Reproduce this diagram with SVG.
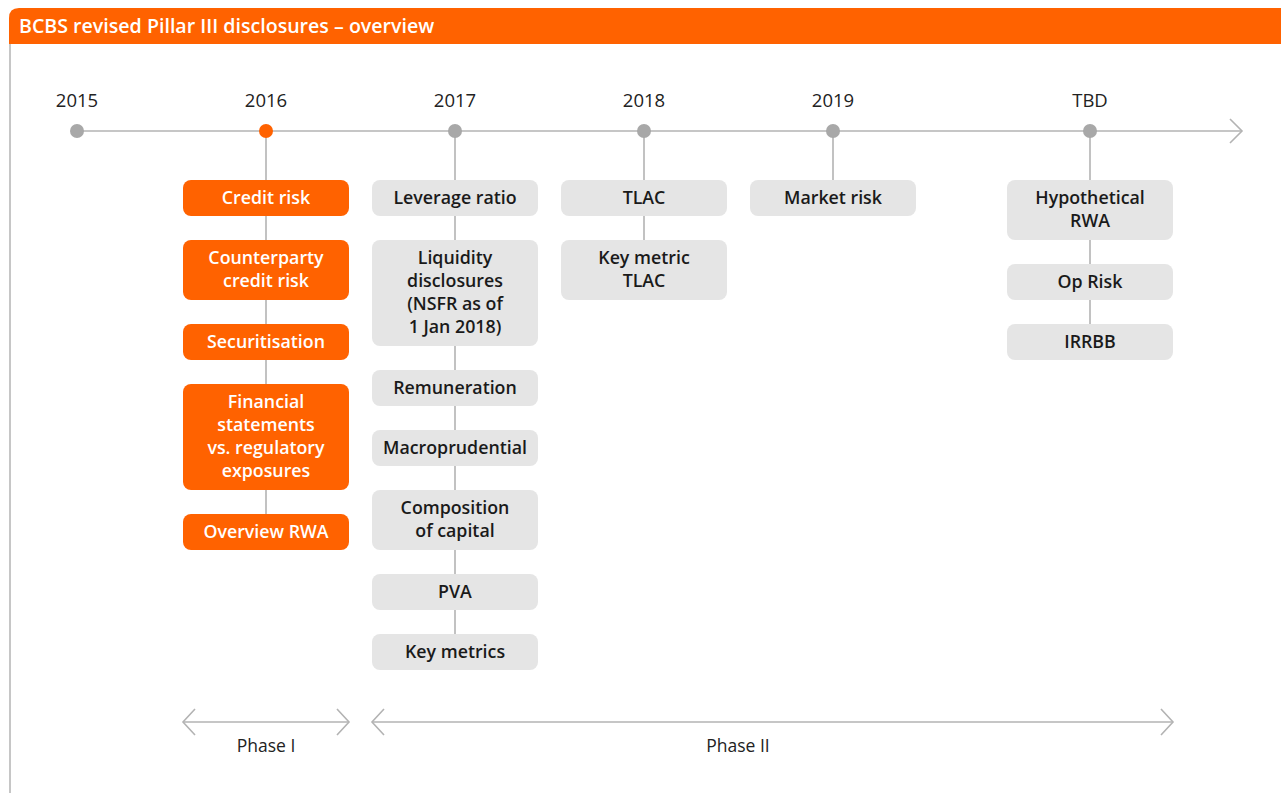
<svg xmlns="http://www.w3.org/2000/svg" width="1281" height="793" viewBox="0 0 1281 793">
<defs>
<style>
.bg{fill:#ffffff}
.hdr{fill:#ff6200}
.htxt{font-family:"Open Sans","Liberation Sans",sans-serif;font-size:19.6px;font-weight:600;fill:#ffffff}
.yr{font-family:"Open Sans","Liberation Sans",sans-serif;font-size:18.5px;fill:#222222;text-anchor:middle}
.ln{stroke:#b3b3b3;stroke-width:1.6;fill:none}
.dot{fill:#a8a8a8}
.dotO{fill:#ff6200}
.bo{fill:#ff6200}
.bg2{fill:#e5e5e5}
.to{font-family:"Open Sans","Liberation Sans",sans-serif;font-size:17.8px;font-weight:600;fill:#ffffff;text-anchor:middle}
.tg{font-family:"Open Sans","Liberation Sans",sans-serif;font-size:17.8px;font-weight:600;fill:#1a1a1a;text-anchor:middle}
.ph{font-family:"Open Sans","Liberation Sans",sans-serif;font-size:17.5px;fill:#222222;text-anchor:middle}
</style>
</defs>
<rect class="bg" x="0" y="0" width="1281" height="793"/>
<path class="hdr" d="M9,44 V18 Q9,8 19,8 H1281 V44 Z"/>
<text class="htxt" x="19" y="33">BCBS revised Pillar III disclosures – overview</text>
<line x1="10" y1="44" x2="10" y2="793" stroke="#b3b3b3" stroke-width="1.5"/>

<g id="connectors">
<line class="ln" x1="77" y1="131" x2="1242" y2="131"/>
<polyline class="ln" points="1230,119 1242,131 1230,143"/>
<line class="ln" x1="266" y1="131" x2="266" y2="514"/>
<line class="ln" x1="455" y1="131" x2="455" y2="634"/>
<line class="ln" x1="644" y1="131" x2="644" y2="240"/>
<line class="ln" x1="833" y1="131" x2="833" y2="180"/>
<line class="ln" x1="1090" y1="131" x2="1090" y2="324"/>
<line class="ln" x1="183" y1="722" x2="349" y2="722"/>
<polyline class="ln" points="195,709 183,722 195,735"/>
<polyline class="ln" points="337,709 349,722 337,735"/>
<line class="ln" x1="372" y1="722" x2="1173" y2="722"/>
<polyline class="ln" points="384,709 372,722 384,735"/>
<polyline class="ln" points="1161,709 1173,722 1161,735"/>
</g>

<g id="years">
<circle class="dot" cx="77" cy="131" r="7"/>
<circle class="dotO" cx="266" cy="131" r="7"/>
<circle class="dot" cx="455" cy="131" r="7"/>
<circle class="dot" cx="644" cy="131" r="7"/>
<circle class="dot" cx="833" cy="131" r="7"/>
<circle class="dot" cx="1090" cy="131" r="7"/>
<text class="yr" x="77" y="107">2015</text>
<text class="yr" x="266" y="107">2016</text>
<text class="yr" x="455" y="107">2017</text>
<text class="yr" x="644" y="107">2018</text>
<text class="yr" x="833" y="107">2019</text>
<text class="yr" x="1090" y="107">TBD</text>
</g>

<g id="credit-risk"><rect class="bo" x="183" y="180" width="166" height="36" rx="8"/><text class="to" x="266" y="204">Credit risk</text></g>
<g id="ccr"><rect class="bo" x="183" y="240" width="166" height="60" rx="8"/><text class="to" x="266" y="264">Counterparty</text><text class="to" x="266" y="287">credit risk</text></g>
<g id="securitisation"><rect class="bo" x="183" y="324" width="166" height="36" rx="8"/><text class="to" x="266" y="348">Securitisation</text></g>
<g id="fin-stmt"><rect class="bo" x="183" y="384" width="166" height="106" rx="8"/><text class="to" x="266" y="408">Financial</text><text class="to" x="266" y="431">statements</text><text class="to" x="266" y="454">vs. regulatory</text><text class="to" x="266" y="477">exposures</text></g>
<g id="overview-rwa"><rect class="bo" x="183" y="514" width="166" height="36" rx="8"/><text class="to" x="266" y="538">Overview RWA</text></g>

<g id="leverage"><rect class="bg2" x="372" y="180" width="166" height="36" rx="8"/><text class="tg" x="455" y="204">Leverage ratio</text></g>
<g id="liquidity"><rect class="bg2" x="372" y="240" width="166" height="106" rx="8"/><text class="tg" x="455" y="264">Liquidity</text><text class="tg" x="455" y="287">disclosures</text><text class="tg" x="455" y="310">(NSFR as of</text><text class="tg" x="455" y="333">1 Jan 2018)</text></g>
<g id="remuneration"><rect class="bg2" x="372" y="370" width="166" height="36" rx="8"/><text class="tg" x="455" y="394">Remuneration</text></g>
<g id="macro"><rect class="bg2" x="372" y="430" width="166" height="36" rx="8"/><text class="tg" x="455" y="454">Macroprudential</text></g>
<g id="composition"><rect class="bg2" x="372" y="490" width="166" height="60" rx="8"/><text class="tg" x="455" y="514">Composition</text><text class="tg" x="455" y="537">of capital</text></g>
<g id="pva"><rect class="bg2" x="372" y="574" width="166" height="36" rx="8"/><text class="tg" x="455" y="598">PVA</text></g>
<g id="key-metrics"><rect class="bg2" x="372" y="634" width="166" height="36" rx="8"/><text class="tg" x="455" y="658">Key metrics</text></g>

<g id="tlac"><rect class="bg2" x="561" y="180" width="166" height="36" rx="8"/><text class="tg" x="644" y="204">TLAC</text></g>
<g id="key-metric-tlac"><rect class="bg2" x="561" y="240" width="166" height="60" rx="8"/><text class="tg" x="644" y="264">Key metric</text><text class="tg" x="644" y="287">TLAC</text></g>

<g id="market-risk"><rect class="bg2" x="750" y="180" width="166" height="36" rx="8"/><text class="tg" x="833" y="204">Market risk</text></g>

<g id="hyp-rwa"><rect class="bg2" x="1007" y="180" width="166" height="60" rx="8"/><text class="tg" x="1090" y="204">Hypothetical</text><text class="tg" x="1090" y="227">RWA</text></g>
<g id="op-risk"><rect class="bg2" x="1007" y="264" width="166" height="36" rx="8"/><text class="tg" x="1090" y="288">Op Risk</text></g>
<g id="irrbb"><rect class="bg2" x="1007" y="324" width="166" height="36" rx="8"/><text class="tg" x="1090" y="348">IRRBB</text></g>

<g id="phases">
<text class="ph" x="266" y="752">Phase I</text>
<text class="ph" x="738" y="752">Phase II</text>
</g>
</svg>
